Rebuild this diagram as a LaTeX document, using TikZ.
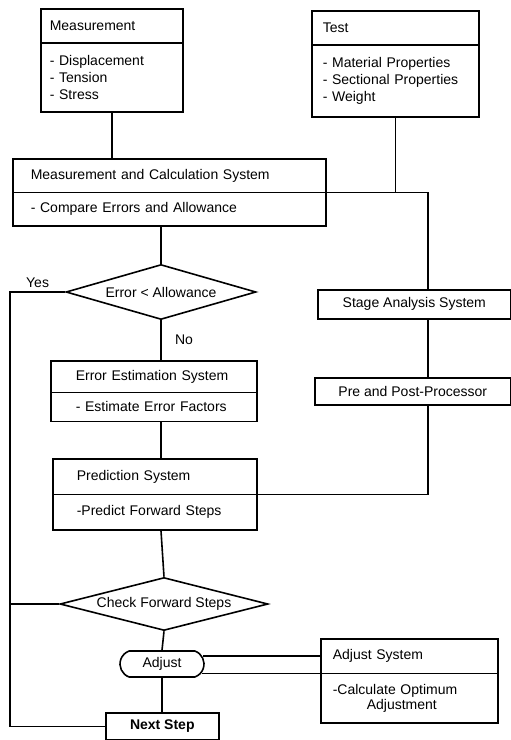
\documentclass[tikz,border=0pt]{standalone}
\usepackage{fontspec}
\setmainfont{Liberation Sans}
\usetikzlibrary{shapes.multipart,shapes.geometric,shapes.misc,calc}
\begin{document}
\begin{tikzpicture}[x=1pt, y=-1pt, line width=1.6pt,
  every node/.style={font=\fontsize{14}{17}\selectfont},
  twobox/.style={draw, rectangle split, rectangle split parts=2, align=left, inner ysep=10pt, anchor=north west},
  onebox/.style={draw, anchor=north west, inner sep=0pt},
  decision/.style={draw, diamond, inner sep=0pt, shape aspect=4}]
  \useasboundingbox (0,0) rectangle (511,740);
  \coordinate (lbus) at (10,0);
  \coordinate (trunk) at (161,0);
  \coordinate (rbus) at (428,0);

  \node (meas) [twobox, inner ysep=11.5pt, inner xsep=9pt, text width=124pt] at (40,8) {Measurement \nodepart{two} - Displacement\\- Tension\\- Stress};
  \node (test) [twobox, inner ysep=11.5pt, inner xsep=11pt, text width=145pt] at (311,10) {Test \nodepart{two} - Material Properties\\- Sectional Properties\\- Weight};
  \node (mcs) [twobox, inner ysep=9.5pt, inner xsep=18pt, text width=277pt] at (12,158) {Measurement and Calculation System \nodepart{two} - Compare Errors and Allowance};
  \node (dia1) [decision, minimum width=190pt, minimum height=55pt] at (161,292) {Error < Allowance};
  \node (stage) [onebox, minimum width=193pt, minimum height=29pt] at (317,289) {Stage Analysis System};
  \node (pre) [onebox, minimum width=196pt, minimum height=27pt] at (314,377) {Pre and Post-Processor};
  \node (ees) [twobox, inner ysep=8.5pt, inner xsep=25pt, text width=156pt] at (50,360) {Error Estimation System \nodepart{two} - Estimate Error Factors};
  \node (pred) [twobox, inner ysep=10.5pt, inner xsep=24pt, text width=156pt] at (52,458) {Prediction System \nodepart{two} -Predict Forward Steps};
  \node (dia2) [decision, minimum width=208pt, minimum height=53pt] at (164,604) {Check Forward Steps};
  \node (adj) [draw, rounded rectangle, rounded rectangle arc length=140, inner sep=0pt, minimum width=84pt, minimum height=26pt] at (162,664) {Adjust};
  \node (adjsys) [twobox, inner xsep=12pt, text width=153pt] at (320,638) {Adjust System \nodepart{two} -Calculate Optimum\\[-2pt]\hspace*{34pt}Adjustment};
  \node (next) [onebox, minimum width=113pt, minimum height=27pt] at (105,712) {\textbf{Next Step}};

  \draw (meas.south) -- (meas.south |- mcs.north);
  \draw (test.south) -- (test.south |- mcs.text split east);
  \draw (mcs.text split east) -| (stage.north -| rbus);
  \draw (stage.south -| rbus) -- (pre.north -| rbus);
  \draw (pre.south -| rbus) |- (pred.text split east);
  \draw (mcs.south -| trunk) -- (dia1.north);
  \draw (dia1.south) -- node[right=10pt] {No} (ees.north -| trunk);
  \draw (dia1.west) -- node[above] {Yes} (dia1.west -| lbus) |- (next.west);
  \draw (ees.south -| trunk) -- (pred.north -| trunk);
  \draw (pred.south -| trunk) -- (dia2.north);
  \draw (dia2.west) -- (dia2.west -| lbus);
  \draw (dia2.south) -- (adj.north);
  \draw (adj.south) -- (adj.south |- next.north);
  \coordinate (adjup) at ($(adjsys.north west)!.5!(adjsys.text split west)$);
  \draw[shorten >=-2pt] (adjup) -- (adjup -| adj.east);
  \draw[shorten >=-3pt] (adjsys.text split west) -- (adjsys.text split west -| adj.east);
\end{tikzpicture}
\end{document}
